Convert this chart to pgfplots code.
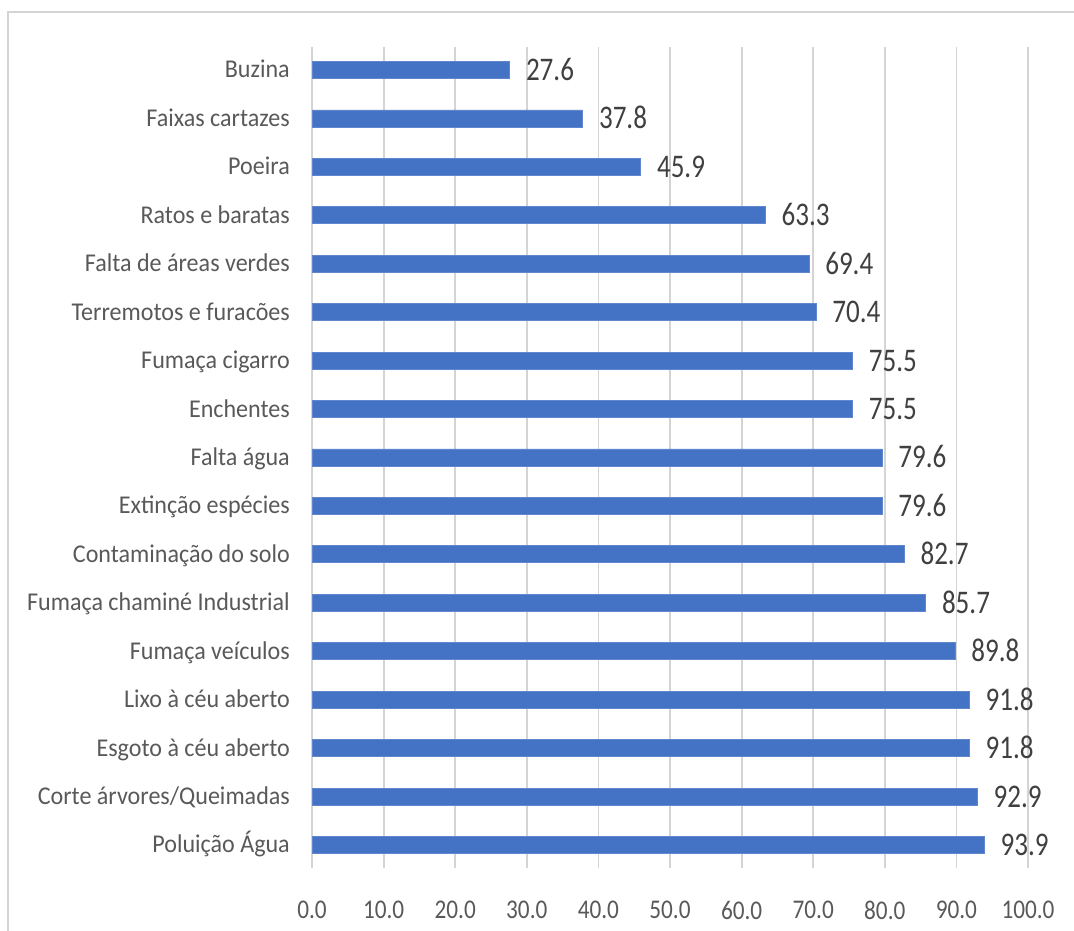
\documentclass[border=0pt]{standalone}
\usepackage{fontspec}
\setmainfont{Carlito}
\newfontfamily\catfont[FakeStretch=0.94]{Carlito}
\newfontfamily\tickfont[FakeStretch=0.86]{Carlito}
\newfontfamily\datafont[FakeStretch=0.82]{Carlito}
\usepackage{pgfplots}
\pgfplotsset{compat=1.18}
\definecolor{barblue}{HTML}{4472C4}
\definecolor{gridgray}{HTML}{D4D4D4}
\definecolor{labgray}{HTML}{595959}
\definecolor{datagray}{HTML}{404040}
\begin{document}
\begin{tikzpicture}
\useasboundingbox (0,0) rectangle (1074bp,931bp);
\draw[color=gridgray, line width=1.8bp] (8bp,0) -- (8bp,919bp) -- (1074bp,919bp);
\begin{axis}[
  at={(312bp,63bp)}, anchor=south west,
  scale only axis, width=716bp, height=821bp,
  xbar, bar width=0.351,
  xmin=0, xmax=100,
  ymin=-0.475, ymax=16.475,
  xtick={0,10,...,100},
  xticklabels={0.0,10.0,20.0,30.0,40.0,50.0,60.0,70.0,80.0,90.0,100.0},
  ytick={0,...,16},
  yticklabels={Poluição Água,Corte árvores/Queimadas,Esgoto à céu aberto,Lixo à céu aberto,Fumaça veículos,Fumaça chaminé Industrial,Contaminação do solo,Extinção espécies,Falta água,Enchentes,Fumaça cigarro,Terremotos e furacões,Falta de áreas verdes,Ratos e baratas,Poeira,Faixas cartazes,Buzina},
  axis line style={draw=none},
  tick style={draw=none},
  major tick length=0pt,
  xmajorgrids, ymajorgrids=false,
  major grid style={color=gridgray, line width=1.8bp},
  xticklabel style={font=\tickfont\fontsize{27bp}{30bp}\selectfont, color=labgray, inner sep=0pt, anchor=center, yshift=-42bp},
  yticklabel style={font=\catfont\fontsize{25.6bp}{30bp}\selectfont, color=labgray, inner sep=0pt, anchor=base east, xshift=-22bp, yshift=-8bp},
  nodes near coords={\pgfmathprintnumber[fixed,fixed zerofill,precision=1,assume math mode=true]{\pgfplotspointmeta}},
  every node near coord/.append style={font=\datafont\fontsize{33bp}{36bp}\selectfont, color=datagray, inner sep=0pt, anchor=base west, xshift=16bp, yshift=-10.5bp},
  /pgf/number format/assume math mode=true,
]
\addplot[fill=barblue, draw=barblue!85!white, line width=0.8bp] coordinates {
(93.9,0) (92.9,1) (91.8,2) (91.8,3) (89.8,4) (85.7,5) (82.7,6) (79.6,7) (79.6,8) (75.5,9) (75.5,10) (70.4,11) (69.4,12) (63.3,13) (45.9,14) (37.8,15) (27.6,16)
};
\end{axis}
\end{tikzpicture}
\end{document}
